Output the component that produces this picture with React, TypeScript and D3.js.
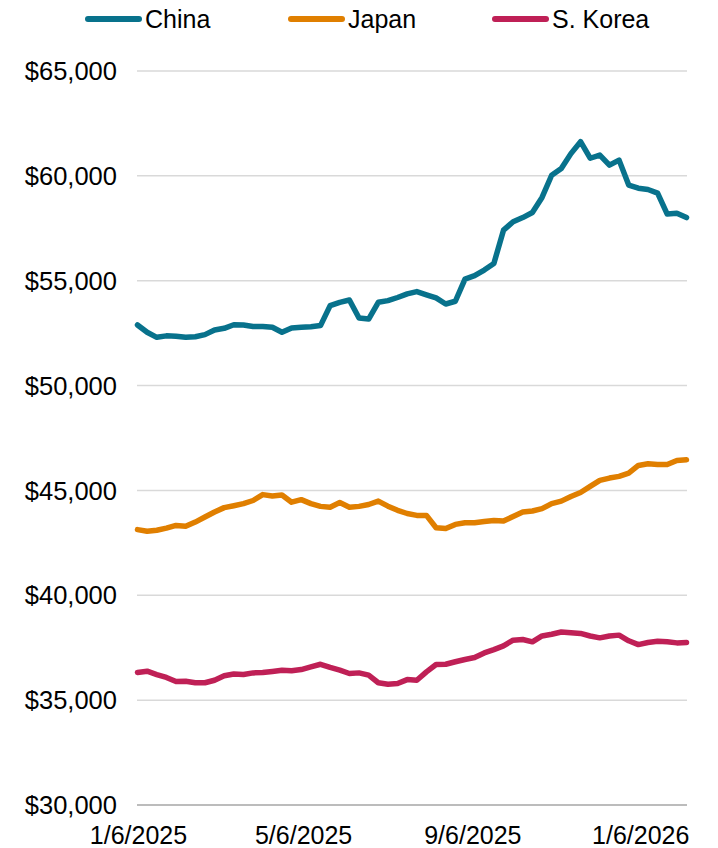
import React from "react";
import * as d3 from "d3";

const startDate = "1/6/2025";
const seriesNames = ["China", "Japan", "S. Korea"];
const seriesColors = ["#08728C", "#E07F00", "#BF2056"];

const china = [
  52890, 52540, 52300, 52370, 52350, 52300, 52330, 52430, 52650, 52730,
  52900, 52890, 52820, 52820, 52780, 52540, 52750, 52780, 52810, 52860,
  53810, 53970, 54080, 53220, 53170, 53970, 54050, 54200, 54370, 54480,
  54330, 54180, 53890, 54020, 55080, 55240, 55510, 55820, 57410, 57810,
  58010, 58250, 58970, 60030, 60350, 61060, 61630, 60840, 60990, 60510,
  60750, 59560, 59410, 59350, 59180, 58180, 58220, 58010,
];
const japan = [
  43130, 43050, 43100, 43200, 43330, 43290, 43490, 43730, 43970, 44180,
  44270, 44370, 44520, 44800, 44730, 44780, 44440, 44560, 44370, 44240,
  44200, 44420, 44200, 44240, 44330, 44490, 44250, 44050, 43900, 43810,
  43810, 43220, 43180, 43380, 43460, 43460, 43520, 43570, 43540, 43760,
  43970, 44020, 44130, 44370, 44490, 44710, 44900, 45190, 45480, 45590,
  45670, 45820, 46190, 46270, 46240, 46240, 46430, 46460,
];
const korea = [
  36320, 36380, 36220, 36080, 35890, 35900, 35830, 35830, 35950, 36160,
  36250, 36220, 36300, 36320, 36370, 36430, 36400, 36460, 36590, 36710,
  36560, 36430, 36270, 36300, 36190, 35830, 35760, 35790, 35980, 35950,
  36350, 36700, 36710, 36830, 36940, 37030, 37250, 37410, 37590, 37860,
  37890, 37780, 38060, 38140, 38250, 38210, 38180, 38060, 37970, 38060,
  38100, 37830, 37650, 37750, 37810, 37780, 37730, 37750,
];
const yTicks = [30000, 35000, 40000, 45000, 50000, 55000, 60000, 65000];
const xTickLabels = ["1/6/2025", "5/6/2025", "9/6/2025", "1/6/2026"];

const W = 718;
const H = 848;
const FONT = "'Liberation Sans', Arial, sans-serif";

export default function App() {
  const parse = d3.timeParse("%m/%d/%Y");
  const d0 = parse(startDate) as Date;
  const dates = china.map((_, i) => d3.timeDay.offset(d0, i * 7));
  const x = d3
    .scaleTime()
    .domain([dates[0], dates[dates.length - 1]])
    .range([137.5, 686.5]);
  const y = d3.scaleLinear().domain([30000, 65000]).range([805, 71]);
  const series = [china, japan, korea];
  const line = d3
    .line<number>()
    .x((_, i) => x(dates[i]))
    .y((v) => y(v));
  const fmt = d3.format("$,");
  const legendX = [86, 289, 493];

  return (
    <svg
      width={W}
      height={H}
      style={{ position: "absolute", left: 0, top: 0, background: "#fff" }}
      fontFamily={FONT}
    >
      {yTicks.map((t) => (
        <g key={t}>
          {t !== 30000 && (
            <line x1={137} x2={687} y1={y(t)} y2={y(t)} stroke="#D9D9D9" strokeWidth={1.5} />
          )}
          <text x={117} y={y(t)} dy="0.36em" textAnchor="end" fontSize={25.5} fill="#000">
            {fmt(t)}
          </text>
        </g>
      ))}
      <line x1={137} x2={687} y1={y(30000)} y2={y(30000)} stroke="#A6A6A6" strokeWidth={1.5} />
      {xTickLabels.map((l) => {
        const d = parse(l) as Date;
        return (
          <text key={l} x={x(d) + 1} y={844} textAnchor="middle" fontSize={25} fill="#000">
            {l}
          </text>
        );
      })}
      {series.map((s, k) => (
        <path
          key={seriesNames[k]}
          d={line(s) || ""}
          fill="none"
          stroke={seriesColors[k]}
          strokeWidth={5.5}
          strokeLinejoin="round"
          strokeLinecap="round"
        />
      ))}
      {seriesNames.map((n, k) => (
        <g key={n}>
          <line
            x1={legendX[k] + 2}
            x2={legendX[k] + 53}
            y1={19}
            y2={19}
            stroke={seriesColors[k]}
            strokeWidth={6}
            strokeLinecap="round"
          />
          <text x={legendX[k] + 59} y={28} fontSize={25} fill="#000">
            {n}
          </text>
        </g>
      ))}
    </svg>
  );
}
